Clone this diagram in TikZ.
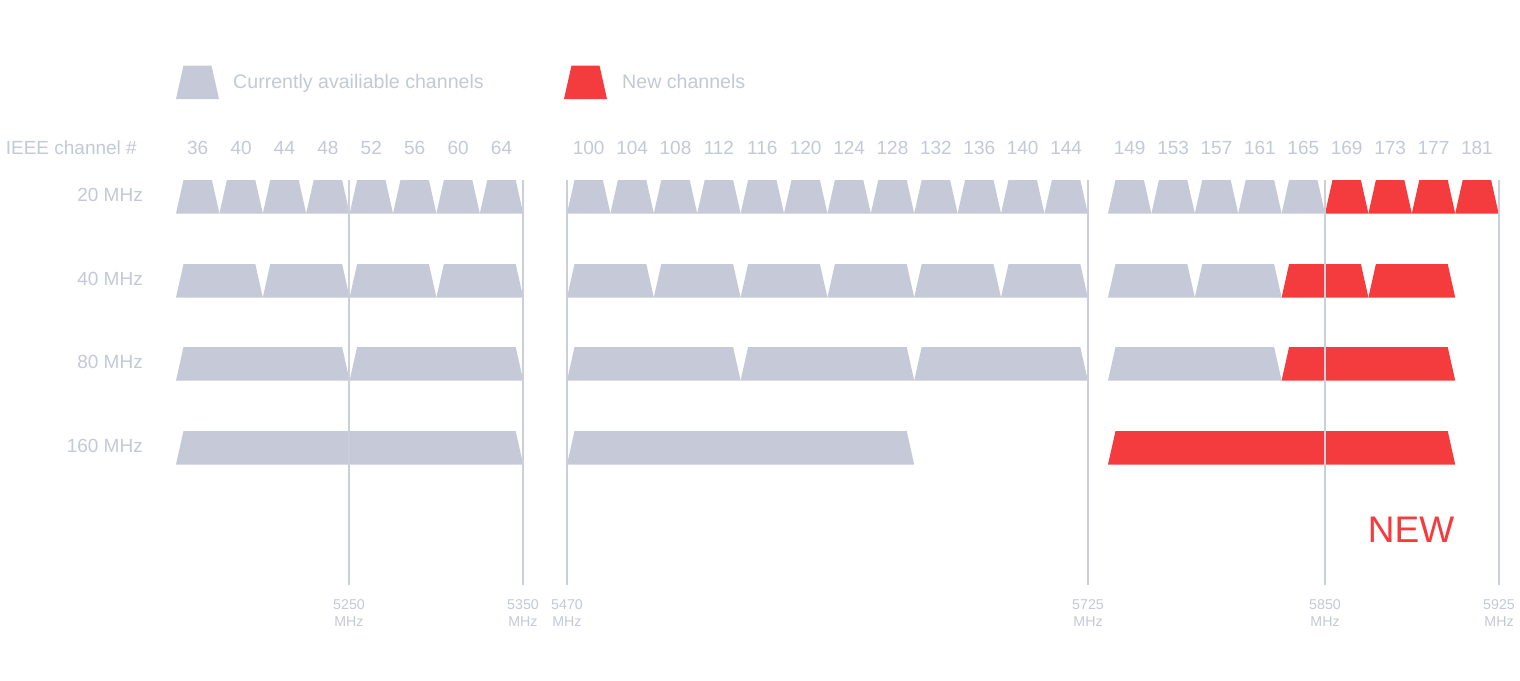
\documentclass[tikz,border=0pt]{standalone}
\usepackage{fontspec}
\setmainfont{Liberation Sans}
\definecolor{chgray}{HTML}{C6CAD8}
\definecolor{chred}{HTML}{F43B3D}
\definecolor{txtgray}{HTML}{C4C9D8}
\definecolor{linegray}{HTML}{CBCFDC}
\newcommand\chanshape[4]{%
  \fill[#4] (#1,#3+33.5) -- (#1+7.5,#3) -- (#1+#2-7.5,#3) -- (#1+#2,#3+33.5) -- cycle;}
\tikzset{
  lbl/.style={text=txtgray,inner sep=0pt,font=\fontsize{19}{22}\selectfont},
  leglbl/.style={text=txtgray,inner sep=0pt,font=\fontsize{19.6}{22}\selectfont,anchor=base west},
  rowlbl/.style={lbl,anchor=east},
  chnum/.style={lbl,anchor=center},
  freq/.style={text=txtgray,inner sep=0pt,align=center,font=\fontsize{14.2}{17.5}\selectfont,anchor=north},
  vline/.style={draw=linegray,line width=2pt},
  gry/.style={fill=chgray},
  rd/.style={fill=chred}
}
\begin{document}
\begin{tikzpicture}[x=1pt,y=-1pt]
\useasboundingbox[fill=white] (0,0) rectangle (1520,680);
% legend
\chanshape{176}{43}{65.5}{gry}
\node[leglbl] (leg1) at (233,88) {Currently availiable channels};
\chanshape{564}{43}{65.5}{rd}
\node[leglbl] (leg2) at (622,88) {New channels};
% header
\node[rowlbl] (ieee) at (137,148) {IEEE channel \#};
\foreach \n [count=\i from 0] in {36,40,44,48,52,56,60,64}
  \node[chnum] (c\n) at (176+\i*43.4+21.7,148) {\n};
\foreach \n [count=\i from 0] in {100,104,108,112,116,120,124,128,132,136,140,144}
  \node[chnum] (c\n) at (567+\i*43.4+21.7,148) {\n};
\foreach \n [count=\i from 0] in {149,153,157,161,165,169,173,177,181}
  \node[chnum] (c\n) at (1108+\i*43.4+21.7,148) {\n};
% row labels
\node[rowlbl] (r20) at (143,195) {20 MHz};
\node[rowlbl] (r40) at (143,279) {40 MHz};
\node[rowlbl] (r80) at (143,362) {80 MHz};
\node[rowlbl] (r160) at (143,446) {160 MHz};
% 20 MHz
\foreach \i in {0,...,7} {\chanshape{176+\i*43.4}{43.4}{180}{gry}}
\foreach \i in {0,...,11} {\chanshape{567+\i*43.4}{43.4}{180}{gry}}
\foreach \i in {0,...,4} {\chanshape{1108+\i*43.4}{43.4}{180}{gry}}
\foreach \i in {5,...,8} {\chanshape{1108+\i*43.4}{43.4}{180}{rd}}
% 40 MHz
\foreach \i in {0,...,3} {\chanshape{176+\i*86.8}{86.8}{264}{gry}}
\foreach \i in {0,...,5} {\chanshape{567+\i*86.8}{86.8}{264}{gry}}
\foreach \i in {0,1} {\chanshape{1108+\i*86.8}{86.8}{264}{gry}}
\foreach \i in {2,3} {\chanshape{1108+\i*86.8}{86.8}{264}{rd}}
% 80 MHz
\foreach \i in {0,1} {\chanshape{176+\i*173.6}{173.6}{347}{gry}}
\foreach \i in {0,1,2} {\chanshape{567+\i*173.6}{173.6}{347}{gry}}
\chanshape{1108}{173.6}{347}{gry}
\chanshape{1281.6}{173.6}{347}{rd}
% 160 MHz
\chanshape{176}{347.2}{431}{gry}
\chanshape{567}{347.2}{431}{gry}
\chanshape{1108}{347.2}{431}{rd}
% vertical lines and frequency labels
\foreach \x/\f [count=\k] in {349/5250,523/5350,567/5470,1088/5725,1325/5850,1499/5925} {
  \coordinate (vt\k) at (\x,180);
  \coordinate (vb\k) at (\x,585);
  \draw[vline] (vt\k) -- (vb\k);
  \node[freq] (f\k) at (\x,599) {\f\\MHz};
}
\node[text=chred,inner sep=0pt,font=\fontsize{37}{40}\selectfont] (new) at (1411,530) {NEW};
\end{tikzpicture}
\end{document}
